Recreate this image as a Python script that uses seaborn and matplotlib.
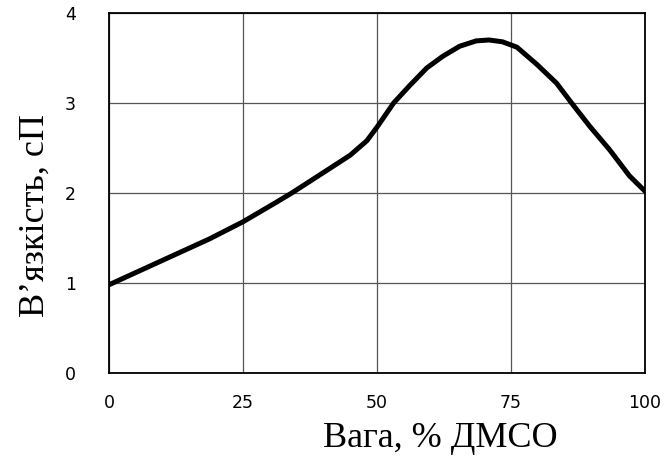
import matplotlib
matplotlib.use("Agg")
import matplotlib.pyplot as plt
import seaborn as sns
import pandas as pd

# Data
dmso_pct = [0, 6.25, 12.5, 18.75, 25, 31.3, 34.1, 40.6, 45.0, 48.1, 50.1, 53.1, 56.2, 59.3,
            62.3, 65.4, 68.5, 70.9, 73.4, 76.1, 79.8, 83.5, 86.3, 89.7, 93.4, 97.1, 100]
viscosity = [0.98, 1.15, 1.32, 1.49, 1.68, 1.90, 2.00, 2.25, 2.42, 2.58, 2.74, 3.00, 3.20, 3.39,
             3.52, 3.63, 3.69, 3.70, 3.68, 3.62, 3.43, 3.22, 3.00, 2.74, 2.48, 2.19, 2.02]
x_ticks = [0, 25, 50, 75, 100]
y_ticks = [0, 1, 2, 3, 4]
x_label = "Вага, % ДМСО"
y_label = "В’язкість, сП"

df = pd.DataFrame({"x": dmso_pct, "y": viscosity})

sns.set_theme(style="white")
plt.rcParams["font.family"] = ["DejaVu Sans"]

fig = plt.figure(figsize=(6.7, 4.59), dpi=100)
ax = fig.add_axes([0.1627, 0.1874, 0.80, 0.7843])

sns.lineplot(data=df, x="x", y="y", ax=ax, color="black", linewidth=3.6,
             solid_capstyle="round", solid_joinstyle="round", zorder=3)

ax.set_xlim(0, 100)
ax.set_ylim(0, 4)
ax.set_xticks(x_ticks)
ax.set_yticks(y_ticks)
ax.set_xticklabels([str(v) for v in x_ticks])
ax.set_yticklabels([str(v) for v in y_ticks])
ax.grid(True, color="#555555", linewidth=0.9)
ax.tick_params(axis="both", length=0, labelsize=12.5, colors="black")
ax.tick_params(axis="x", pad=15)
ax.tick_params(axis="y", pad=24)
for s in ax.spines.values():
    s.set_visible(True)
    s.set_color("black")
    s.set_linewidth(1.3)

ax.set_xlabel(x_label, family=["Liberation Serif"], fontsize=26, color="black")
ax.set_ylabel(y_label, family=["Liberation Serif"], fontsize=26, color="black")
ax.xaxis.set_label_coords(0.6175, -0.2056)
ax.xaxis.label.set_va("baseline")
ax.yaxis.set_label_coords(-0.137, 0.436)
ax.yaxis.label.set_va("center")

fig.savefig("out.png", dpi=100)
